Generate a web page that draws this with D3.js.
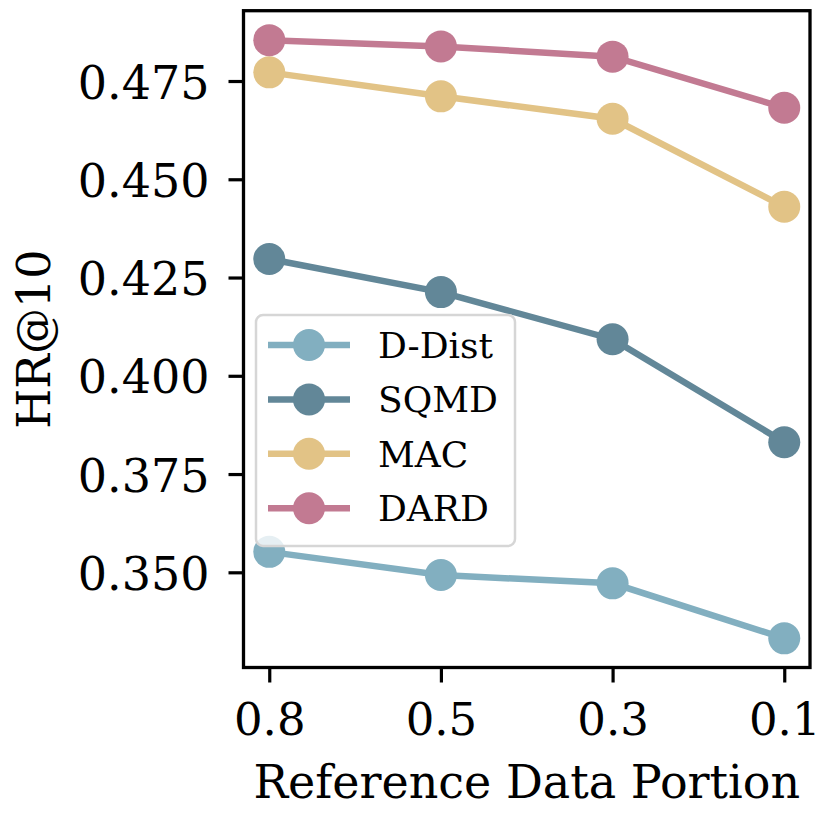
<!DOCTYPE html>
<html>
  <head>
    <meta charset="utf-8">
    <title>HR@10 vs Reference Data Portion</title>
    <script src="https://d3js.org/d3.v7.min.js"></script>
    <style>
      body { margin: 0; background: #fff; }
      text { font-family: "DejaVu Serif", serif; fill: #000; }
    </style>
  </head>
  <body>
    <div id="chart"></div>
    <script>
      // chart data
      var portions = ["0.8", "0.5", "0.3", "0.1"];
      var seriesNames = ["D-Dist", "SQMD", "MAC", "DARD"];
      var dDist = [0.3552, 0.3493, 0.3472, 0.3332];
      var sqmd = [0.4297, 0.4213, 0.4093, 0.3831];
      var mac = [0.4772, 0.4711, 0.4654, 0.4430];
      var dard = [0.4854, 0.4838, 0.4812, 0.4682];
      var yTicks = [0.350, 0.375, 0.400, 0.425, 0.450, 0.475];
      var colors = ["#82afc0", "#628798", "#e2c386", "#c27a92"];

      (function() {
        var allValues = [dDist, sqmd, mac, dard];

        var W = 830, H = 813;
        var pLeft = 243.5, pRight = 810, pTop = 10.7, pBottom = 667.5;

        var svg = d3.select("#chart").append("svg")
          .attr("width", W).attr("height", H);

        var x = d3.scalePoint().domain(portions).range([pLeft, pRight]).padding(0.15);
        var y = d3.scaleLinear().domain([0.32578, 0.49289]).range([pBottom, pTop]);

        var line = d3.line()
          .x(function(d, i) { return x(portions[i]); })
          .y(function(d) { return y(d); });

        // series
        var series = svg.append("g").selectAll("g")
          .data(allValues).enter().append("g");

        series.append("path")
          .attr("d", function(d) { return line(d); })
          .attr("fill", "none")
          .attr("stroke", function(d, i) { return colors[i]; })
          .attr("stroke-width", 6.5);

        series.each(function(vals, si) {
          d3.select(this).selectAll("circle")
            .data(vals).enter().append("circle")
            .attr("cx", function(d, i) { return x(portions[i]); })
            .attr("cy", function(d) { return y(d); })
            .attr("r", 16)
            .attr("fill", colors[si]);
        });

        // axes
        var xAxis = svg.append("g")
          .attr("transform", "translate(0," + pBottom + ")")
          .call(d3.axisBottom(x).tickSize(15).tickPadding(14));
        var yAxis = svg.append("g")
          .attr("transform", "translate(" + pLeft + ",0)")
          .call(d3.axisLeft(y).tickValues(yTicks).tickFormat(d3.format(".3f")).tickSize(15).tickPadding(19));

        [xAxis, yAxis].forEach(function(ax) {
          ax.select(".domain").remove();
          ax.selectAll(".tick line").attr("stroke", "#000").attr("stroke-width", 3.2);
          ax.selectAll(".tick text")
            .style("font-family", "DejaVu Serif")
            .attr("fill", "#000");
        });
        xAxis.selectAll(".tick text").style("font-size", "45px").attr("dy", null).attr("y", 67.5);
        yAxis.selectAll(".tick text").style("font-size", "46px").attr("dy", "0.37em");

        // frame
        svg.append("rect")
          .attr("x", pLeft).attr("y", pTop)
          .attr("width", pRight - pLeft).attr("height", pBottom - pTop)
          .attr("fill", "none").attr("stroke", "#000").attr("stroke-width", 3.3);

        // axis labels
        svg.append("text")
          .attr("x", (pLeft + pRight) / 2).attr("y", 798)
          .attr("text-anchor", "middle")
          .style("font-size", "46px")
          .text("Reference Data Portion");

        svg.append("text")
          .attr("transform", "translate(50," + (pTop + pBottom) / 2 + ") rotate(-90)")
          .attr("text-anchor", "middle")
          .style("font-size", "46px")
          .text("HR@10");

        // legend
        var legend = svg.append("g");
        legend.append("rect")
          .attr("x", 256).attr("y", 315)
          .attr("width", 259).attr("height", 231)
          .attr("rx", 7)
          .attr("fill", "rgba(255,255,255,0.8)")
          .attr("stroke", "#d6d6d6").attr("stroke-width", 2.5);

        var rows = legend.selectAll("g.row")
          .data(seriesNames).enter().append("g")
          .attr("class", "row")
          .attr("transform", function(d, i) { return "translate(0," + (345 + i * 54.4) + ")"; });

        rows.append("line")
          .attr("x1", 268).attr("x2", 350)
          .attr("stroke", function(d, i) { return colors[i]; })
          .attr("stroke-width", 6.5);
        rows.append("circle")
          .attr("cx", 309).attr("r", 16)
          .attr("fill", function(d, i) { return colors[i]; });
        rows.append("text")
          .attr("x", 378).attr("y", 13)
          .style("font-size", "36px")
          .text(function(d) { return d; });
      })();
    </script>
  </body>
</html>
